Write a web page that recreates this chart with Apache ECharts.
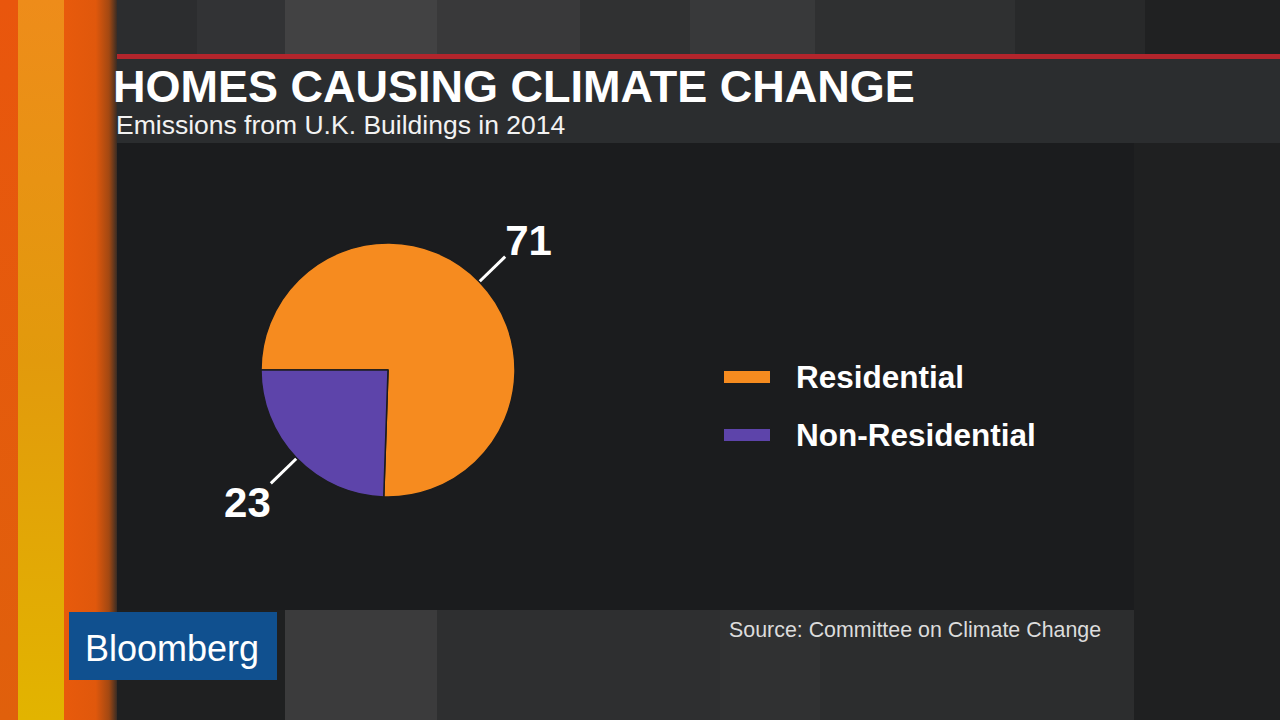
<!DOCTYPE html>
<html>
<head>
<meta charset="utf-8">
<script src="https://cdn.jsdelivr.net/npm/echarts@6/dist/echarts.min.js"></script>
<style>
html,body{margin:0;padding:0;background:#2a2b2d;}
#chart{width:1280px;height:720px;}
</style>
</head>
<body>
<div id="chart"></div>
<script>
const titleText = 'HOMES CAUSING CLIMATE CHANGE';
const subtitleText = 'Emissions from U.K. Buildings in 2014';
const sourceText = 'Source: Committee on Climate Change';
const categories = ['Residential', 'Non-Residential'];
const values = [71, 23];
const sliceColors = ['#f68b1f', '#5d44aa'];

const chart = echarts.init(document.getElementById('chart'), null, {renderer: 'svg'});

const pieData = categories.map((name, i) => ({
  name: name,
  value: values[i],
  itemStyle: {color: sliceColors[i]},
  label: i === 0
    ? {formatter: '{c}\n ', lineHeight: 32}
    : {formatter: ' \n{c}', lineHeight: 38}
}));

const bgRects = [
  {x: 0, y: 0, w: 1280, h: 720, c: '#2a2b2d'},
  // top stripes
  {x: 117, y: 0, w: 80, h: 55, c: '#2c2d2f'},
  {x: 197, y: 0, w: 88, h: 55, c: '#323335'},
  {x: 285, y: 0, w: 152, h: 55, c: '#424243'},
  {x: 437, y: 0, w: 143, h: 55, c: '#39393a'},
  {x: 580, y: 0, w: 110, h: 55, c: '#303132'},
  {x: 690, y: 0, w: 125, h: 55, c: '#38393a'},
  {x: 815, y: 0, w: 200, h: 55, c: '#2f3031'},
  {x: 1015, y: 0, w: 130, h: 55, c: '#28292a'},
  {x: 1145, y: 0, w: 135, h: 55, c: '#202122'},
  // bottom stripes
  {x: 117, y: 610, w: 168, h: 110, c: '#1f2021'},
  {x: 285, y: 610, w: 152, h: 110, c: '#3b3b3c'},
  {x: 437, y: 610, w: 283, h: 110, c: '#2e2f30'},
  {x: 720, y: 610, w: 100, h: 110, c: '#303132'},
  {x: 820, y: 610, w: 314, h: 110, c: '#2c2d2e'},
  // right side
  {x: 1134, y: 143, w: 146, h: 577, c: '#1f2021'},
  // header band
  {x: 107, y: 59, w: 1173, h: 84, c: '#2b2d2f'},
  // red line
  {x: 107, y: 54, w: 1173, h: 5, c: '#b3252c'},
  // chart panel
  {x: 117, y: 143, w: 1017, h: 467, c: '#1b1c1e'}
];

const graphics = bgRects.map(r => ({
  type: 'rect', silent: true, z: -10,
  shape: {x: r.x, y: r.y, width: r.w, height: r.h},
  style: {fill: r.c}
}));

graphics.push({
  type: 'rect', silent: true, z: -9,
  shape: {x: 0, y: 0, width: 18, height: 720},
  style: {fill: new echarts.graphic.LinearGradient(0, 0, 0, 1, [
    {offset: 0, color: '#e9560d'}, {offset: 1, color: '#e0600c'}])}
});
graphics.push({
  type: 'rect', silent: true, z: -9,
  shape: {x: 18, y: 0, width: 46, height: 720},
  style: {fill: new echarts.graphic.LinearGradient(0, 0, 0, 1, [
    {offset: 0, color: '#ee8c1a'}, {offset: 0.5, color: '#e29a0c'}, {offset: 1, color: '#e2b400'}])}
});
graphics.push({
  type: 'rect', silent: true, z: -9,
  shape: {x: 64, y: 0, width: 53, height: 720},
  style: {fill: new echarts.graphic.LinearGradient(0, 0, 1, 0, [
    {offset: 0, color: '#e85a0c'}, {offset: 0.6, color: '#e0580c'}, {offset: 0.85, color: '#a24812'}, {offset: 1, color: '#3a2c24'}])}
});
graphics.push({
  type: 'rect', silent: true, z: 5,
  shape: {x: 69, y: 612, width: 208, height: 68},
  style: {fill: '#10508f'}
});
graphics.push({
  type: 'text', silent: true, z: 6,
  x: 85, y: 648,
  style: {text: 'Bloomberg', fill: '#ffffff', fontSize: 36, fontFamily: 'Liberation Sans', verticalAlign: 'middle', align: 'left'}
});

const option = {
  backgroundColor: '#2a2b2d',
  animation: false,
  graphic: graphics,
  title: [
    {text: titleText, left: 113, top: 64, padding: 0,
     textStyle: {color: '#ffffff', fontSize: 45, fontWeight: 'bold', fontFamily: 'Liberation Sans'}},
    {text: subtitleText, left: 116, top: 111, padding: 0,
     textStyle: {color: '#f2f2f2', fontSize: 26.5, fontWeight: 'normal', fontFamily: 'Liberation Sans'}},
    {text: sourceText, left: 729, top: 619, padding: 0,
     textStyle: {color: '#dcdcdc', fontSize: 21.4, fontWeight: 'normal', fontFamily: 'Liberation Sans'}}
  ],
  legend: {
    orient: 'vertical',
    left: 722, top: 361,
    icon: 'rect',
    itemWidth: 48, itemHeight: 14,
    itemGap: 26,
    padding: 0,
    data: categories,
    textStyle: {color: '#ffffff', fontSize: 31.5, fontWeight: 'bold', fontFamily: 'Liberation Sans', lineHeight: 30, padding: [0, 0, 0, 20]}
  },
  series: [{
    type: 'pie',
    center: [388, 370],
    radius: 127,
    startAngle: 180,
    clockwise: true,
    avoidLabelOverlap: false,
    itemStyle: {borderColor: '#1b1c1e', borderWidth: 1.5},
    label: {
      show: true, position: 'outside',
      color: '#ffffff', fontSize: 42, fontWeight: 'bold', fontFamily: 'Liberation Sans',
      distanceToLabelLine: 0
    },
    labelLine: {show: true, length: 36, length2: 0, smooth: false, lineStyle: {color: '#ffffff', width: 3}},
    emphasis: {disabled: true},
    data: pieData
  }]
};
chart.setOption(option);
</script>
</body>
</html>
